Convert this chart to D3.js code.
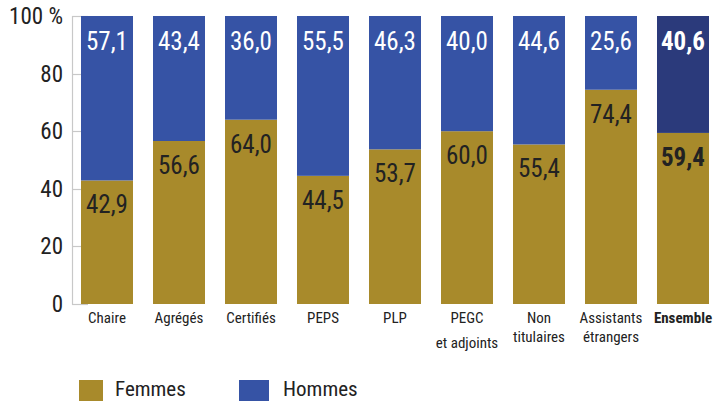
<!DOCTYPE html>
<html><head><meta charset="utf-8">
<script src="https://cdn.jsdelivr.net/npm/d3@7"></script>
<style>
body{margin:0;background:#fff;}
svg{display:block;font-family:"Liberation Sans Narrow","Roboto Condensed","Arial Narrow",sans-serif;}
</style></head>
<body><svg id="c" width="719" height="401"></svg>
<script>
const categories = ["Chaire","Agrégés","Certifiés","PEPS","PLP","PEGC|et adjoints","Non|titulaires","Assistants|étrangers","Ensemble"];
const femmes = [42.9,56.6,64.0,44.5,53.7,60.0,55.4,74.4,59.4];
const hommes = [57.1,43.4,36.0,55.5,46.3,40.0,44.6,25.6,40.6];
const yTicks = [0,20,40,60,80,100];
const seriesNames = ["Femmes","Hommes"];

const svg = d3.select("#c");
const gold = "#A88A2B", blue = "#3653A5", darkBlue = "#2B3A7B";
const x = d3.scaleBand().domain(categories).range([71,719]).paddingInner(20/72).paddingOuter(10/72);
const y = d3.scaleLinear().domain([0,100]).range([304,16]);
const fmt = v => v.toFixed(1).replace(".", ",");

// axis line + ticks
svg.append("line").attr("x1",72.5).attr("x2",72.5).attr("y1",y(100)).attr("y2",y(0)+0.5).attr("stroke","#c8c8c8").attr("stroke-width",1.2);
svg.selectAll("line.tk").data(yTicks).join("line").attr("class","tk")
  .attr("x1",72).attr("x2",88).attr("y1",d=>Math.round(y(d))+0.5).attr("y2",d=>Math.round(y(d))+0.5)
  .attr("stroke","#c8c8c8").attr("stroke-width",1.2);
svg.selectAll("text.yl").data(yTicks).join("text").attr("class","yl")
  .attr("x",63).attr("y",d=>y(d)+8).attr("text-anchor","end")
  .attr("font-size",23).attr("fill","#222").text(d=>d===100?"100 %":d);

const g = svg.selectAll("g.bar").data(categories).join("g").attr("class","bar");
g.append("rect").attr("x",d=>x(d)).attr("width",x.bandwidth())
  .attr("y",(d,i)=>y(femmes[i])).attr("height",(d,i)=>y(0)-y(femmes[i])).attr("fill",gold);
g.append("rect").attr("x",d=>x(d)).attr("width",x.bandwidth())
  .attr("y",(d,i)=>y(femmes[i]+hommes[i])).attr("height",(d,i)=>y(femmes[i])-y(femmes[i]+hommes[i]))
  .attr("fill",(d,i)=>i===categories.length-1?darkBlue:blue);
g.append("text").attr("x",d=>x(d)+x.bandwidth()/2).attr("y",(d,i)=>y(femmes[i])+33)
  .attr("text-anchor","middle").attr("font-size",25).attr("fill","#222")
  .attr("font-weight",(d,i)=>i===categories.length-1?"bold":"normal").text((d,i)=>fmt(femmes[i]));
g.append("text").attr("x",d=>x(d)+x.bandwidth()/2).attr("y",(d,i)=>y(femmes[i]+hommes[i])+34)
  .attr("text-anchor","middle").attr("font-size",25).attr("fill","#fff")
  .attr("font-weight",(d,i)=>i===categories.length-1?"bold":"normal").text((d,i)=>fmt(hommes[i]));

// category labels
g.each(function(d,i){
  const parts = d.split("|");
  const t = d3.select(this).append("text").attr("text-anchor","middle").attr("font-size",15).attr("fill","#222")
    .attr("font-weight",i===categories.length-1?"bold":"normal");
  parts.forEach((p,j)=>{
    t.append("tspan").attr("x",x(d)+x.bandwidth()/2).attr("y",323+j*(d.startsWith("PEGC")?25:19)).text(p);
  });
});

// legend
const lg = [{n:seriesNames[0],c:gold,x:79,tx:115},{n:seriesNames[1],c:blue,x:239,tx:283}];
svg.selectAll("rect.lg").data(lg).join("rect").attr("class","lg").attr("x",d=>d.x).attr("y",380).attr("width",d=>d.n==="Femmes"?24:30).attr("height",22).attr("fill",d=>d.c);
svg.selectAll("text.lg").data(lg).join("text").attr("class","lg").attr("x",d=>d.tx).attr("y",396).attr("font-size",21).attr("fill","#222").text(d=>d.n);
</script></body></html>
